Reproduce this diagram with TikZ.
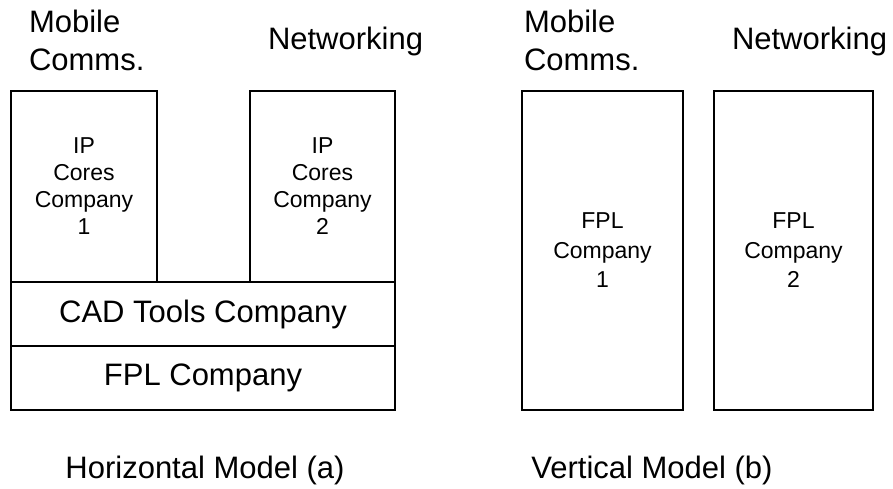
\documentclass[tikz,border=0pt]{standalone}
\usepackage{fontspec}
\setmainfont{Liberation Sans}
\begin{document}
\begin{tikzpicture}[x=1pt,y=-1pt,
  boxline/.style={draw=black,line width=1.4pt,inner sep=0pt,outer sep=0pt,align=center},
  small/.style={font=\fontsize{23}{27}\selectfont},
  smallb/.style={font=\fontsize{23}{29.5}\selectfont},
  big/.style={font=\fontsize{31}{38}\selectfont},
  lbl/.style={inner sep=0pt,outer sep=0pt,align=left,font=\fontsize{31}{38}\selectfont}]
\useasboundingbox (0,0) rectangle (893,489);
% Horizontal model
\node[boxline,small,minimum width=146pt,minimum height=191pt] (ip1) at (84,186.5) {IP\\Cores\\Company\\1};
\node[boxline,small,minimum width=145pt,minimum height=191pt] (ip2) at (322.5,186.5) {IP\\Cores\\Company\\2};
\node[boxline,big,minimum width=384pt,minimum height=64pt] (cad) at (203,314) {CAD Tools Company};
\node[boxline,big,minimum width=384pt,minimum height=64pt] (fpl) at (203,378) {FPL Company};
\node[lbl,anchor=base west] (mob1) at (29,71) {Mobile\\Comms.};
\node[lbl,anchor=base west] (net1) at (268,50) {Networking};
\node[lbl,anchor=base] (hcap) at (205,478) {Horizontal Model (a)};
% Vertical model
\node[boxline,smallb,minimum width=161pt,minimum height=319pt] (v1) at (602.5,250.5) {FPL\\Company\\1};
\node[boxline,smallb,minimum width=159pt,minimum height=319pt] (v2) at (793.5,250.5) {FPL\\Company\\2};
\node[lbl,anchor=base west] (mob2) at (524,71) {Mobile\\Comms.};
\node[lbl,anchor=base west] (net2) at (732,50) {Networking};
\node[lbl,anchor=base] (vcap) at (652,478) {Vertical Model (b)};
\end{tikzpicture}
\end{document}
